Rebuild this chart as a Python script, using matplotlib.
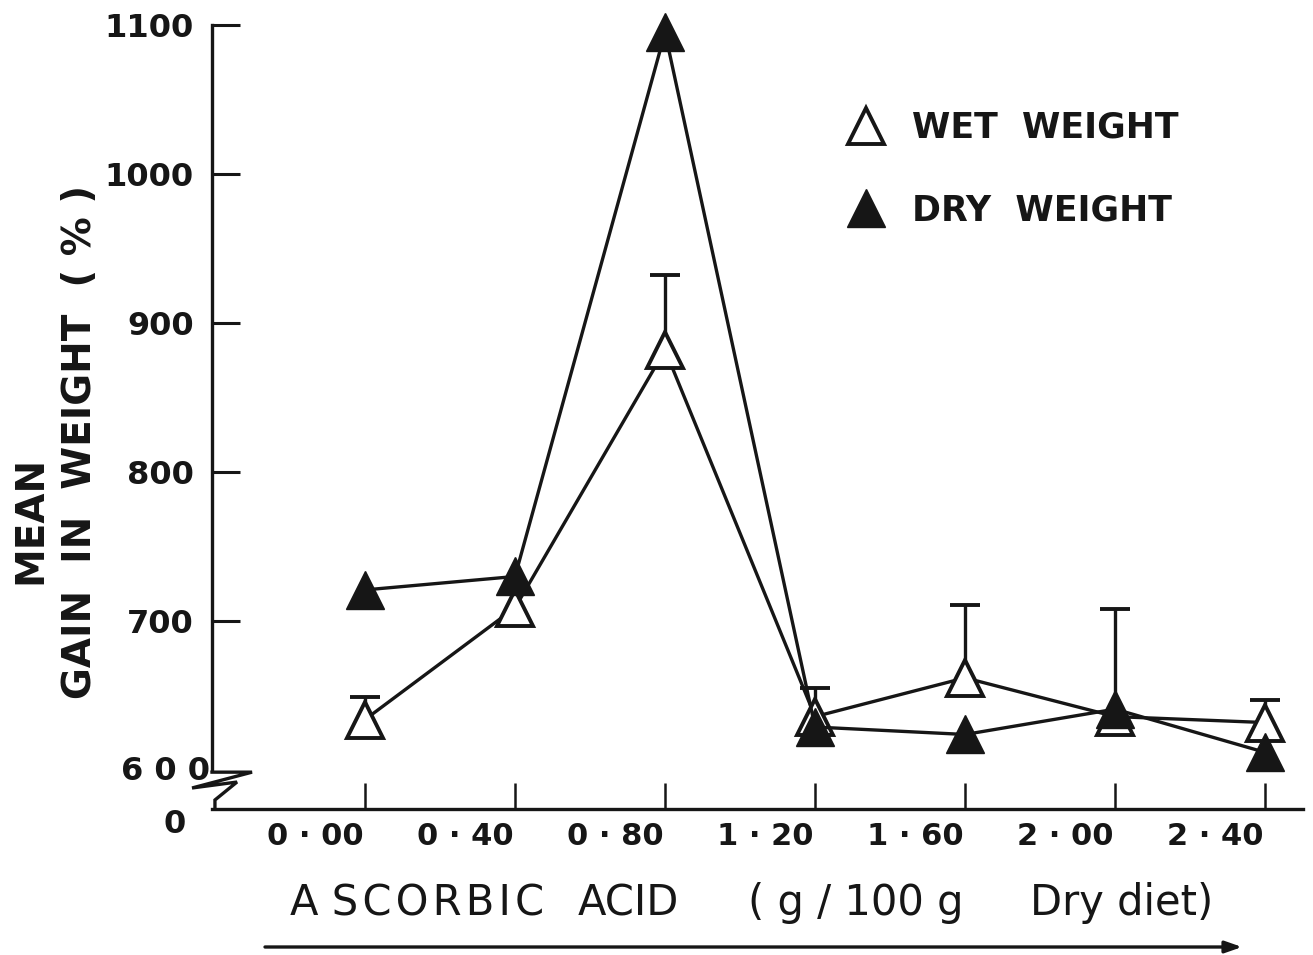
import matplotlib.pyplot as plt
from matplotlib.lines import Line2D
from matplotlib.transforms import ScaledTranslation

# ascorbic acid in the diet (g/100 g dry diet)
acid = [0.00, 0.40, 0.80, 1.20, 1.60, 2.00, 2.40]
acid_labels = ['0·00', '0·40', '0·80', '1·20', '1·60', '2·00', '2·40']

# mean gain in weight (%)
wet_gain = [634, 709, 882, 636, 662, 636, 632]
wet_err = [15, 0, 50, 19, 49, 72, 15]
dry_gain = [721, 730, 1095, 629, 624, 641, 612]

y_ticks = [700, 800, 900, 1000, 1100]

plt.rcParams['font.family'] = 'DejaVu Sans'
ink = '#161616'

fig = plt.figure(figsize=(13.13, 9.55), dpi=100)
ax = fig.add_axes([212 / 1313, 146 / 955, 1091 / 1313, 784 / 955])
ax.set_xlim(-0.408, 2.501)
ax.set_ylim(574, 1100)

# error bars (upper side only) for wet weight
for x, y, e in zip(acid, wet_gain, wet_err):
    if e > 0:
        ax.vlines(x, y, y + e, color=ink, lw=2.4, zorder=2)
        ax.plot(x, y + e, marker='_', ms=22, mew=2.8, color=ink, zorder=2)

ax.plot(acid, wet_gain, color=ink, lw=2.4, marker='^', ms=26,
        mfc='white', mec=ink, mew=2.8, zorder=3, clip_on=False)
ax.plot(acid, dry_gain, color=ink, lw=2.4, marker='^', ms=28,
        mfc=ink, mec=ink, mew=1, zorder=4, clip_on=False)

# axes
for side in ['top', 'right']:
    ax.spines[side].set_visible(False)
ax.spines['left'].set_bounds(600, 1100)
for side in ['left', 'bottom']:
    ax.spines[side].set_linewidth(2.4)
    ax.spines[side].set_color(ink)

ax.set_yticks(y_ticks)
ax.set_yticklabels([str(v) for v in y_ticks], fontweight='bold')
ax.tick_params(axis='y', direction='in', length=20, width=2.2, pad=13,
               labelsize=23, color=ink, labelcolor=ink)
ax.set_xticks(acid)
ax.set_xticklabels([s.replace('·', ' · ') for s in acid_labels], fontweight='bold')
ax.tick_params(axis='x', direction='in', length=19, width=1.8, pad=9,
               labelsize=22, color=ink, labelcolor=ink)
for lab in ax.get_xticklabels():
    lab.set_transform(lab.get_transform() + ScaledTranslation(-0.5, 0, fig.dpi_scale_trans))

# axis break between 0 and 600
ax.plot([0, 0.0367, -0.0183, 0.0229, 0.0027, 0.0027],
        [0.047, 0.047, 0.0268, 0.0344, 0.0115, 0],
        transform=ax.transAxes, color=ink, lw=2.4, clip_on=False,
        solid_joinstyle='miter')
ax.text(-0.002, 599, '6 0 0', ha='right', va='center', fontsize=23, color=ink,
        fontweight='bold', transform=ax.get_yaxis_transform())
ax.text(-0.034, 0.0, '0', ha='center', va='top', fontsize=23, color=ink,
        fontweight='bold', transform=ax.transAxes)

# axis title, set word by word
for x0, word in [(290, 'A S\u200aC\u200aO\u200aR\u200aB\u200aI\u200aC'), (578, 'ACID'),
                 (748, '( g / 100 g'), (1030, 'Dry diet)')]:
    fig.text(x0 / 1313, 1 - 903 / 955, word, ha='left', va='center',
             fontsize=30, color=ink)
fig.text(30 / 1313, 1 - 520 / 955, 'MEAN', rotation=90,
         ha='center', va='center', fontsize=28, fontweight='bold', color=ink)
fig.text(80 / 1313, 1 - 442 / 955, 'GAIN  IN  WEIGHT  ( % )', rotation=90,
         ha='center', va='center', fontsize=28, fontweight='bold', color=ink)

ax.annotate('', xy=(1242, 955 - 947), xytext=(265, 955 - 947),
            xycoords='figure pixels', textcoords='figure pixels',
            arrowprops=dict(arrowstyle='-|>,head_length=1.0,head_width=0.35',
                            color=ink, lw=2.4, shrinkA=0, shrinkB=0))

handles = [
    Line2D([], [], ls='none', marker='^', ms=26, mfc='white', mec=ink, mew=2.8),
    Line2D([], [], ls='none', marker='^', ms=28, mfc=ink, mec=ink, mew=1),
]
leg = ax.legend(handles, ['WET  WEIGHT', 'DRY  WEIGHT'], loc='upper left',
                bbox_to_anchor=(849 / 1313, 1 - 111 / 955), bbox_transform=fig.transFigure,
                frameon=False, fontsize=25, handlelength=1.0, handletextpad=0.8,
                labelspacing=1.4, borderpad=0, borderaxespad=0, labelcolor=ink)
for t in leg.get_texts():
    t.set_fontweight('bold')

fig.savefig('out.png', dpi=100)
